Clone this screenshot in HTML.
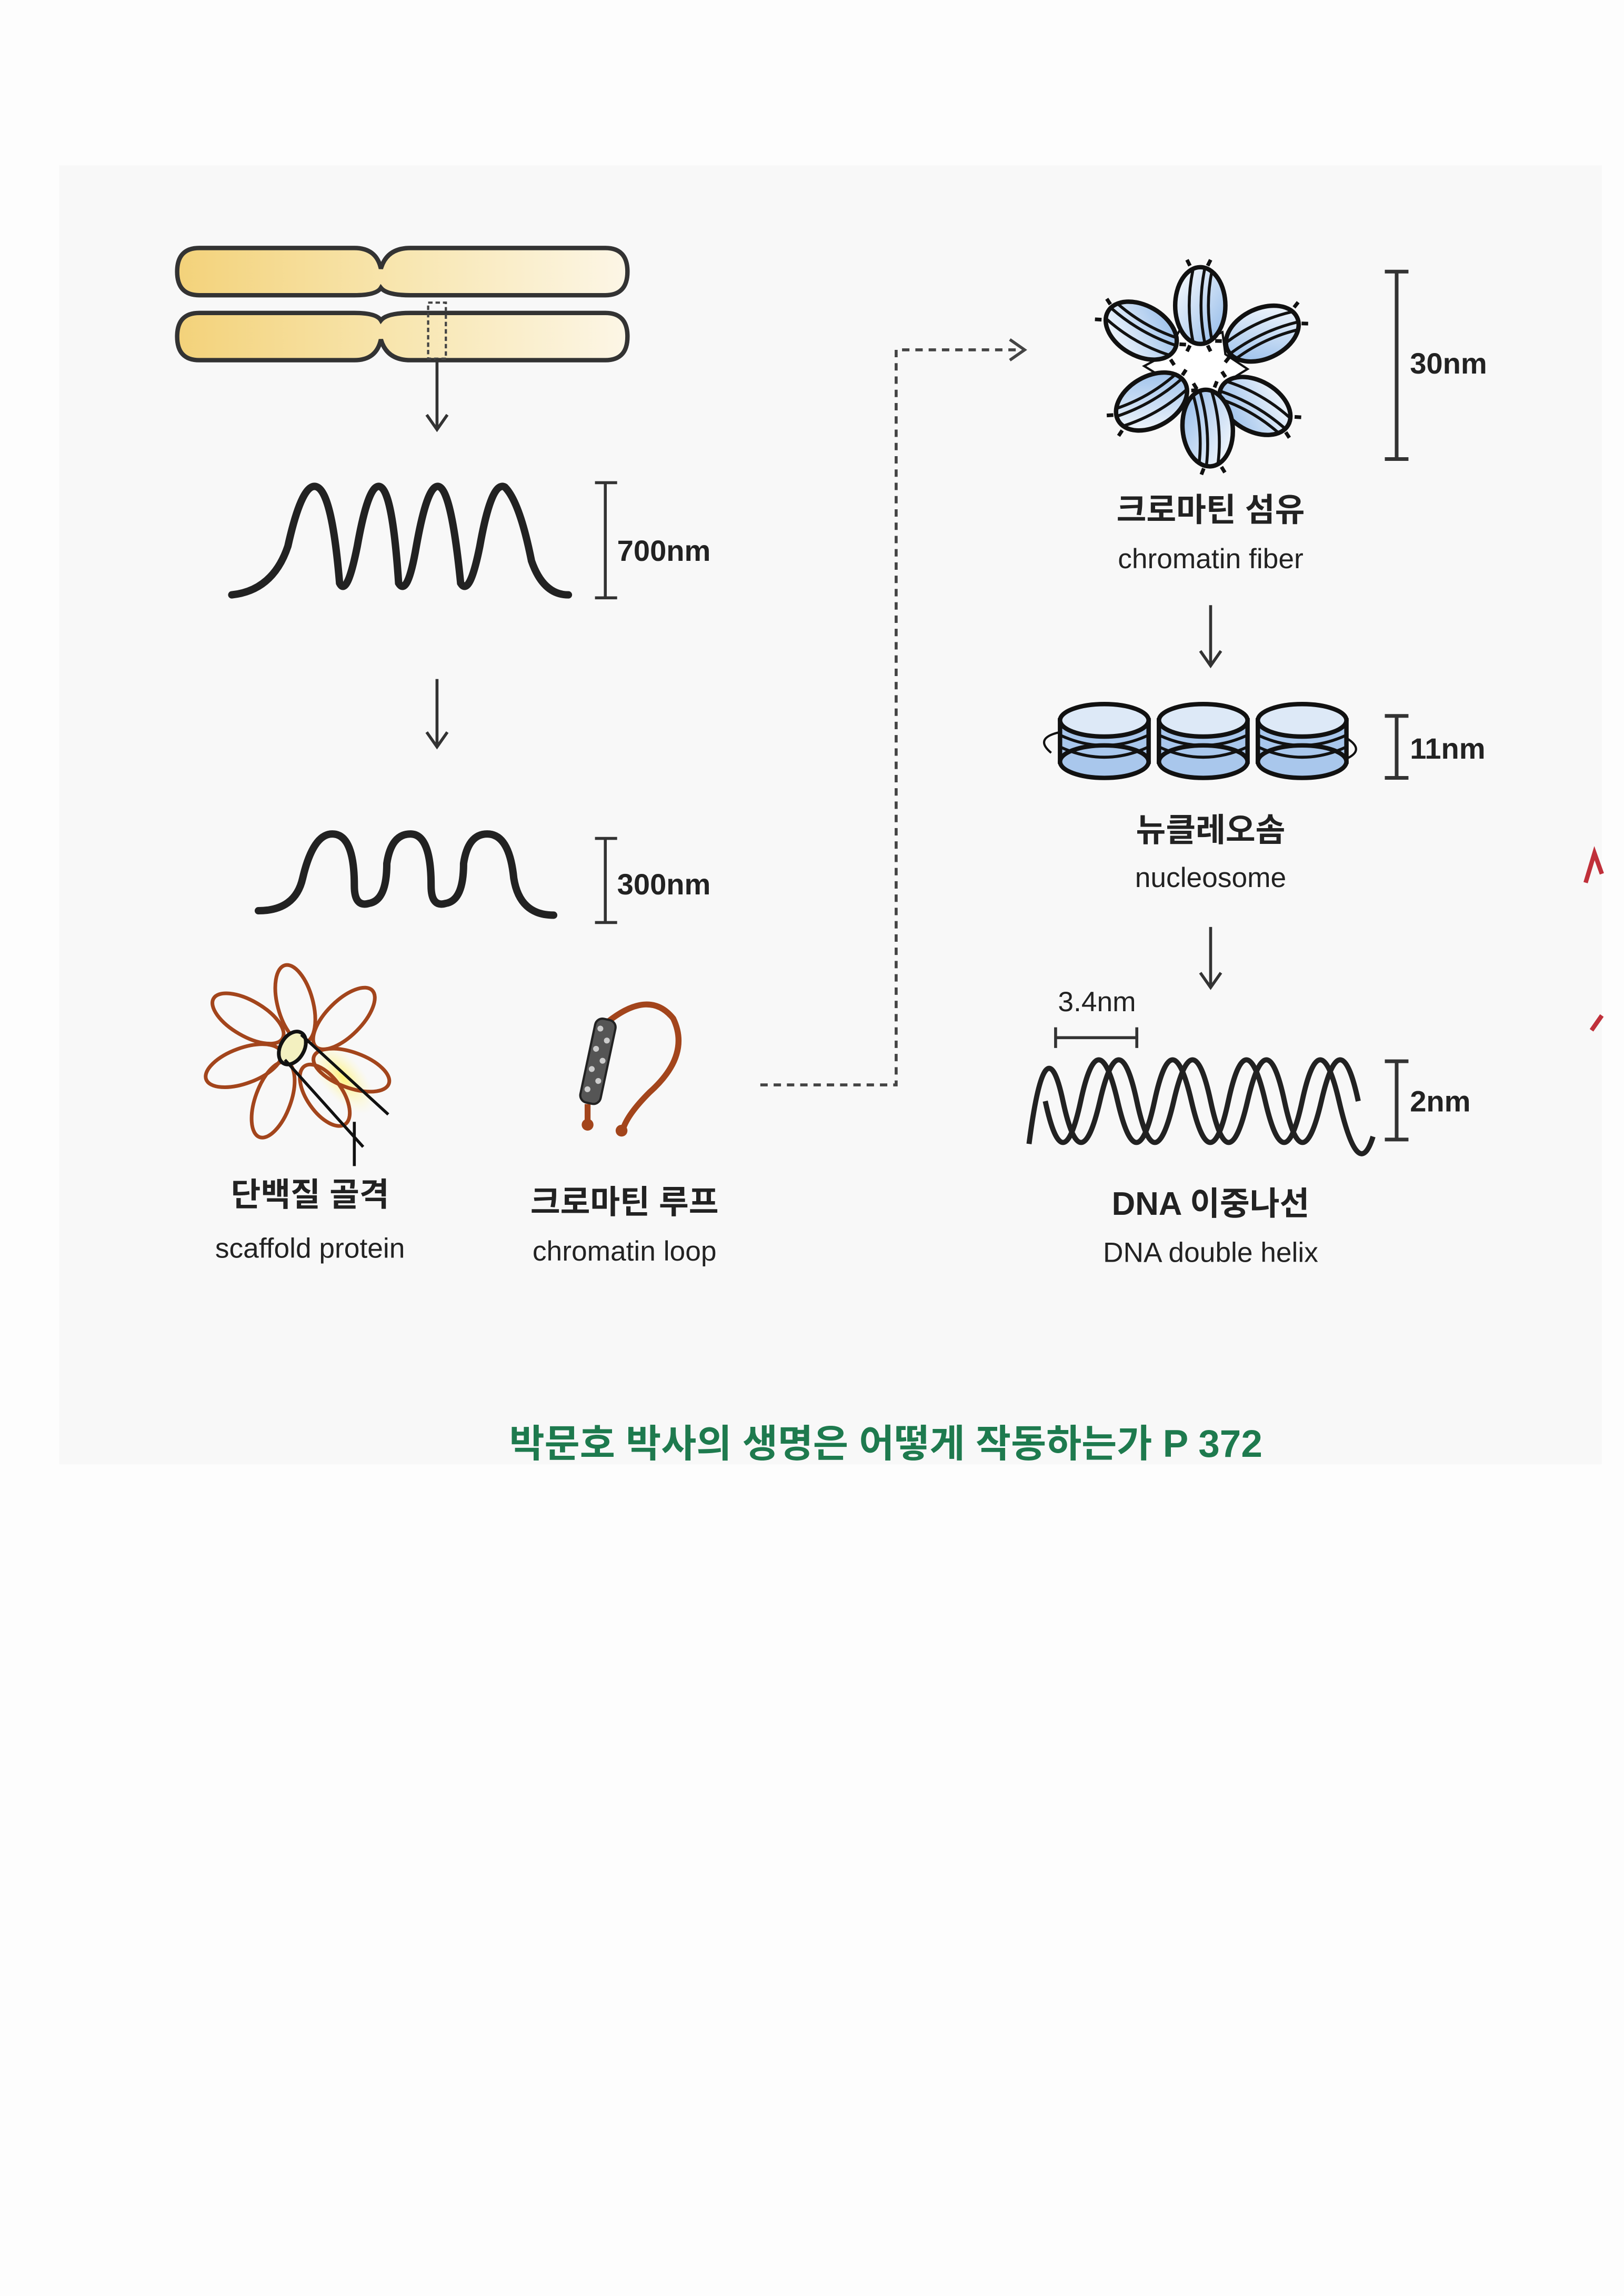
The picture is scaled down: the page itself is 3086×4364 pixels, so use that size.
<!DOCTYPE html>
<html><head><meta charset="utf-8"><style>
html,body{margin:0;padding:0;background:#fdfdfd;}
svg{display:block;}
text{font-family:"Liberation Sans","Noto Sans CJK KR",sans-serif;}
</style></head><body>
<svg width="3086" height="4364" viewBox="0 0 1100 1555.5" xmlns="http://www.w3.org/2000/svg">
<defs>
<linearGradient id="yg" x1="0" x2="1" y1="0" y2="0"><stop offset="0" stop-color="#f3d27a"/><stop offset="0.5" stop-color="#f8e6b0"/><stop offset="1" stop-color="#fcf6e6"/></linearGradient>
<linearGradient id="bg" x1="0" x2="1" y1="0" y2="1"><stop offset="0" stop-color="#ffffff"/><stop offset="1" stop-color="#8fb8e8"/></linearGradient>
<radialGradient id="yel" cx="0.5" cy="0.5" r="0.5"><stop offset="0" stop-color="#fff27a"/><stop offset="1" stop-color="#fff8c0" stop-opacity="0"/></radialGradient>
<g id="nuc">
<ellipse cx="0" cy="0" rx="17" ry="26" fill="url(#bg)" stroke="#111" stroke-width="3"/>
<path d="M-5 -24 Q-10 0 -5 24 M3 -25 Q-2 0 3 25 M8 -24 Q3 0 8 24" fill="none" stroke="#111" stroke-width="2"/>
<path d="M-7 -27 l-2 -4 M5 -27 l2 -4 M-7 27 l-2 4 M5 27 l2 4" stroke="#111" stroke-width="2.5"/>
</g>
</defs>
<rect x="0" y="0" width="1100" height="1555.5" fill="#fdfdfd"/>
<rect x="40" y="112" width="1045" height="880" fill="#f8f8f8"/>

<!-- chromosome -->
<path d="M135 168 H240 Q255 168 258 182 Q262 168 278 168 H410 Q425 168 425 184 Q425 200 410 200 H278 Q262 200 258 195 Q255 200 240 200 H135 Q120 200 120 184 Q120 168 135 168 Z" fill="url(#yg)" stroke="#333" stroke-width="3"/>
<path d="M135 212 H240 Q255 212 258 217 Q262 212 278 212 H410 Q425 212 425 228 Q425 244 410 244 H278 Q262 244 258 230 Q255 244 240 244 H135 Q120 244 120 228 Q120 212 135 212 Z" fill="url(#yg)" stroke="#333" stroke-width="3"/>
<rect x="290" y="205" width="12" height="38" fill="none" stroke="#444" stroke-width="1.5" stroke-dasharray="3,2"/>
<path d="M296 243 V290 M289 281 L296 291 L303 281" fill="none" stroke="#333" stroke-width="2"/>

<!-- 700nm wave -->
<path d="M157 403 Q185 400 195 370 Q205 325 215 330 Q225 335 230 395 Q235 405 242 370 Q250 325 258 330 Q266 335 270 395 Q276 405 282 370 Q290 325 298 330 Q306 335 312 395 Q318 405 325 370 Q333 325 342 330 Q352 340 360 380 Q368 403 385 403" fill="none" stroke="#222" stroke-width="5" stroke-linecap="round"/>
<path d="M403 327 H418 M410 327 V405 M403 405 H418" stroke="#333" stroke-width="2" fill="none"/>
<text x="418" y="380" font-size="20" font-weight="bold" fill="#222">700nm</text>
<path d="M296 460 V505 M289 496 L296 506 L303 496" fill="none" stroke="#333" stroke-width="2"/>

<!-- 300nm wave -->
<path d="M175 617 Q200 617 205 595 Q212 565 225 565 Q240 565 240 600 Q240 615 250 612 Q262 610 262 585 Q265 565 278 565 Q292 565 292 600 Q292 615 302 612 Q314 610 314 585 Q317 565 330 565 Q345 565 348 595 Q352 620 375 620" fill="none" stroke="#222" stroke-width="5" stroke-linecap="round"/>
<path d="M403 568 H418 M410 568 V625 M403 625 H418" stroke="#333" stroke-width="2" fill="none"/>
<text x="418" y="606" font-size="20" font-weight="bold" fill="#222">300nm</text>

<!-- scaffold flower -->
<ellipse cx="232" cy="730" rx="30" ry="14" fill="url(#yel)" transform="rotate(50 232 730)"/>
<g fill="none" stroke="#a3451c" stroke-width="2.5">
<ellipse cx="200" cy="680" rx="12" ry="27" transform="rotate(-15 200 680)"/>
<ellipse cx="168" cy="690" rx="12" ry="27" transform="rotate(-60 168 690)"/>
<ellipse cx="233" cy="690" rx="12" ry="27" transform="rotate(45 233 690)"/>
<ellipse cx="165" cy="722" rx="12" ry="27" transform="rotate(-110 165 722)"/>
<ellipse cx="238" cy="725" rx="12" ry="27" transform="rotate(110 238 725)"/>
<ellipse cx="185" cy="745" rx="12" ry="27" transform="rotate(20 185 745)"/>
<ellipse cx="220" cy="742" rx="12" ry="24" transform="rotate(-35 220 742)"/>
</g>
<ellipse cx="198" cy="710" rx="8" ry="12" fill="#f3f0c0" stroke="#111" stroke-width="2.5" transform="rotate(30 198 710)"/>
<path d="M204 701 L263 755 M193 718 L246 777 M240 760 V790" stroke="#111" stroke-width="2" fill="none"/>
<text x="210" y="817" font-size="22" font-weight="bold" fill="#222" text-anchor="middle">단백질 골격</text>
<text x="210" y="852" font-size="19" fill="#222" text-anchor="middle">scaffold protein</text>

<!-- chromatin loop -->
<path d="M412 692 Q440 670 456 690 Q468 715 440 740 Q425 755 422 765" fill="none" stroke="#a3451c" stroke-width="4"/>
<circle cx="421" cy="766" r="4" fill="#a3451c"/>
<path d="M398 748 V760" stroke="#a3451c" stroke-width="4"/><circle cx="398" cy="762" r="4" fill="#a3451c"/>
<rect x="398" y="690" width="14" height="58" rx="5" fill="#555" stroke="#222" stroke-width="1.5" transform="rotate(12 405 719)"/>
<g fill="#ccc" transform="rotate(12 405 719)"><circle cx="402" cy="697" r="2"/><circle cx="408" cy="704" r="2"/><circle cx="402" cy="711" r="2"/><circle cx="408" cy="718" r="2"/><circle cx="402" cy="725" r="2"/><circle cx="408" cy="732" r="2"/><circle cx="402" cy="739" r="2"/></g>
<text x="423" y="822" font-size="22" font-weight="bold" fill="#222" text-anchor="middle">크로마틴 루프</text>
<text x="423" y="854" font-size="19" fill="#222" text-anchor="middle">chromatin loop</text>

<!-- dotted connector -->
<path d="M515 735 H607 V237 H692" fill="none" stroke="#444" stroke-width="2" stroke-dasharray="5,4"/>
<path d="M684 230 L694 237 L684 244" fill="none" stroke="#444" stroke-width="2"/>

<!-- chromatin fiber -->
<path d="M800 222 L812 232 L828 225 L830 240 L845 250 L832 258 L835 272 L818 268 L810 280 L800 268 L783 272 L788 256 L775 248 L790 240 Z" fill="#fff" stroke="#111" stroke-width="1.5"/>
<use href="#nuc" transform="translate(813 207)"/>
<use href="#nuc" transform="translate(855 226) rotate(65)"/>
<use href="#nuc" transform="translate(850 275) rotate(120)"/>
<use href="#nuc" transform="translate(818 290) rotate(175)"/>
<use href="#nuc" transform="translate(780 272) rotate(240)"/>
<use href="#nuc" transform="translate(773 224) rotate(300)"/>
<path d="M938 184 H954 M946 184 V311 M938 311 H954" stroke="#333" stroke-width="2.5" fill="none"/>
<text x="955" y="253" font-size="20" font-weight="bold" fill="#222">30nm</text>
<text x="820" y="353" font-size="22" font-weight="bold" fill="#222" text-anchor="middle">크로마틴 섬유</text>
<text x="820" y="385" font-size="19" fill="#222" text-anchor="middle">chromatin fiber</text>
<path d="M820 410 V450 M813 441 L820 451 L827 441" fill="none" stroke="#333" stroke-width="2"/>

<!-- nucleosomes -->
<g stroke="#111" stroke-width="3">
<g><rect x="718" y="488" width="60" height="28" fill="#a9c7ec"/><ellipse cx="748" cy="516" rx="30" ry="11" fill="#a9c7ec"/><ellipse cx="748" cy="488" rx="30" ry="11" fill="#dde9f7"/><path d="M718 498 Q748 512 778 498 M718 506 Q748 520 778 506" fill="none" stroke-width="2"/></g>
<g><rect x="785" y="488" width="60" height="28" fill="#a9c7ec"/><ellipse cx="815" cy="516" rx="30" ry="11" fill="#a9c7ec"/><ellipse cx="815" cy="488" rx="30" ry="11" fill="#dde9f7"/><path d="M785 498 Q815 512 845 498 M785 506 Q815 520 845 506" fill="none" stroke-width="2"/></g>
<g><rect x="852" y="488" width="60" height="28" fill="#a9c7ec"/><ellipse cx="882" cy="516" rx="30" ry="11" fill="#a9c7ec"/><ellipse cx="882" cy="488" rx="30" ry="11" fill="#dde9f7"/><path d="M852 498 Q882 512 912 498 M852 506 Q882 520 912 506" fill="none" stroke-width="2"/></g>
</g>
<path d="M712 510 Q700 500 718 496 M912 500 Q925 508 912 514" fill="none" stroke="#111" stroke-width="1.5"/>
<path d="M938 485 H954 M946 485 V527 M938 527 H954" stroke="#333" stroke-width="2.5" fill="none"/>
<text x="955" y="514" font-size="20" font-weight="bold" fill="#222">11nm</text>
<text x="820" y="570" font-size="22" font-weight="bold" fill="#222" text-anchor="middle">뉴클레오솜</text>
<text x="820" y="601" font-size="19" fill="#222" text-anchor="middle">nucleosome</text>
<path d="M820 628 V668 M813 659 L820 669 L827 659" fill="none" stroke="#333" stroke-width="2"/>

<!-- DNA -->
<text x="743" y="685" font-size="19" fill="#222" text-anchor="middle">3.4nm</text>
<path d="M715 696 V710 M715 703 H770 M770 696 V710" stroke="#333" stroke-width="2" fill="none"/>
<path d="M697 775 Q708 690 720 746 T745 746 T770 746 T795 746 T820 746 T845 746 T870 746 T895 746 T920 746" fill="none" stroke="#222" stroke-width="3.5"/>
<path d="M708 746 Q720 802 732 746 T757 746 T782 746 T807 746 T832 746 T857 746 T882 746 T907 746 T930 770" fill="none" stroke="#222" stroke-width="3.5"/>
<path d="M938 719 H954 M946 719 V772 M938 772 H954" stroke="#333" stroke-width="2.5" fill="none"/>
<text x="955" y="753" font-size="20" font-weight="bold" fill="#222">2nm</text>
<text x="820" y="823" font-size="22" font-weight="bold" fill="#222" text-anchor="middle">DNA 이중나선</text>
<text x="820" y="855" font-size="19" fill="#222" text-anchor="middle">DNA double helix</text>

<!-- red marks at right edge -->
<path d="M1074 598 L1080 578 L1085 592" fill="none" stroke="#c0303a" stroke-width="3"/>
<path d="M1078 698 L1085 688" fill="none" stroke="#c0303a" stroke-width="3"/>

<text x="600" y="987" font-size="26" font-weight="bold" fill="#1e7a4e" text-anchor="middle">박문호 박사의 생명은 어떻게 작동하는가 P 372</text>
</svg>
</body></html>
